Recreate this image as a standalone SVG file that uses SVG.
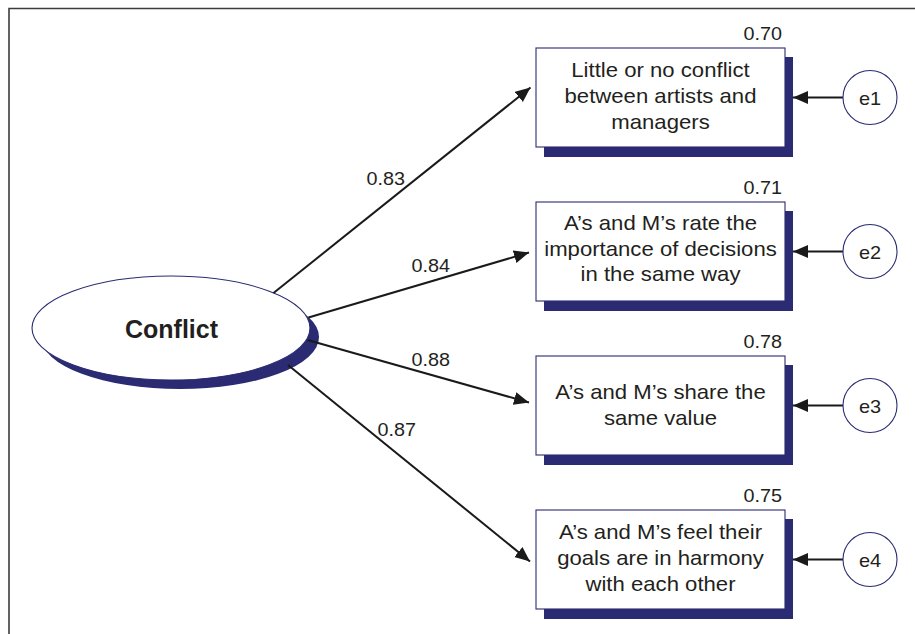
<svg xmlns="http://www.w3.org/2000/svg" width="915" height="634" viewBox="0 0 915 634">
  <style>
    .frame { fill: none; stroke: #3c3c3c; stroke-width: 1.6; }
    .shadow { fill: #2a2b72; }
    .box { fill: #ffffff; stroke: #2a2b72; stroke-width: 1.1; }
    .err { fill: #ffffff; stroke: #2a2b72; stroke-width: 1.1; }
    .edge { fill: none; stroke: #1a1a1a; stroke-width: 2; }
    .txt { font-family: "Liberation Sans", Arial, sans-serif; font-size: 20.5px; fill: #231f20; text-anchor: middle; }
    .num { font-family: "Liberation Sans", Arial, sans-serif; font-size: 18px; fill: #231f20; }
    .elab { font-family: "Liberation Sans", Arial, sans-serif; font-size: 19px; fill: #231f20; text-anchor: middle; }
    .lat { font-family: "Liberation Sans", Arial, sans-serif; font-size: 25px; font-weight: bold; fill: #231f20; text-anchor: middle; }
  </style>
  <defs>
    <marker id="arrow" markerUnits="userSpaceOnUse" markerWidth="16" markerHeight="14" refX="15" refY="6.5" orient="auto">
      <path d="M0,0 L15,6.5 L0,13 z" fill="#1a1a1a"/>
    </marker>
  </defs>

  <rect width="915" height="634" fill="#ffffff"/>
  <!-- page frame (open to the right and bottom) -->
  <path class="frame" d="M915,8.5 H9 V634"/>

  <!-- latent variable -->
  <g id="conflict">
    <ellipse class="shadow" cx="180" cy="337" rx="139" ry="52"/>
    <ellipse class="box" cx="171" cy="328" rx="139" ry="52"/>
    <text class="lat" x="171.5" y="338">Conflict</text>
  </g>

  <!-- connectors -->
  <g id="connectors">
    <line class="edge" x1="273.5" y1="293" x2="530.5" y2="87.5" marker-end="url(#arrow)"/>
    <line class="edge" x1="308.5" y1="317.5" x2="529" y2="252.5" marker-end="url(#arrow)"/>
    <line class="edge" x1="307.5" y1="340" x2="529" y2="402.5" marker-end="url(#arrow)"/>
    <line class="edge" x1="288" y1="365" x2="530" y2="561.5" marker-end="url(#arrow)"/>
    <line class="edge" x1="843" y1="97.5" x2="793" y2="97.5" marker-end="url(#arrow)"/>
    <line class="edge" x1="843" y1="251.5" x2="793" y2="251.5" marker-end="url(#arrow)"/>
    <line class="edge" x1="843" y1="405.5" x2="793" y2="405.5" marker-end="url(#arrow)"/>
    <line class="edge" x1="843" y1="559.5" x2="793" y2="559.5" marker-end="url(#arrow)"/>
    <!-- loadings -->
    <text class="num" transform="translate(366.5,185) scale(1.1,1)">0.83</text>
    <text class="num" transform="translate(411.5,272) scale(1.1,1)">0.84</text>
    <text class="num" transform="translate(411.5,366) scale(1.1,1)">0.88</text>
    <text class="num" transform="translate(377.5,436) scale(1.1,1)">0.87</text>
  </g>

  <!-- observed indicators -->
  <g id="item1">
    <rect class="shadow" x="544" y="57" width="249" height="100"/>
    <rect class="box" x="536" y="48" width="249" height="99"/>
    <text class="num" text-anchor="end" transform="translate(782,40) scale(1.1,1)">0.70</text>
    <text class="txt" transform="translate(660.5,76.5) scale(1.08,1)">Little or no conflict</text>
    <text class="txt" transform="translate(660.5,102.5) scale(1.08,1)">between artists and</text>
    <text class="txt" transform="translate(660.5,128.5) scale(1.08,1)">managers</text>
  </g>

  <g id="item2">
    <rect class="shadow" x="544" y="211" width="249" height="100"/>
    <rect class="box" x="536" y="202" width="249" height="99"/>
    <text class="num" text-anchor="end" transform="translate(782,194) scale(1.1,1)">0.71</text>
    <text class="txt" transform="translate(660.5,229.5) scale(1.08,1)">A’s and M’s rate the</text>
    <text class="txt" transform="translate(660.5,255.5) scale(1.08,1)">importance of decisions</text>
    <text class="txt" transform="translate(660.5,281) scale(1.08,1)">in the same way</text>
  </g>

  <g id="item3">
    <rect class="shadow" x="544" y="365" width="249" height="100"/>
    <rect class="box" x="536" y="356" width="249" height="99"/>
    <text class="num" text-anchor="end" transform="translate(782,348) scale(1.1,1)">0.78</text>
    <text class="txt" transform="translate(660.5,398.5) scale(1.08,1)">A’s and M’s share the</text>
    <text class="txt" transform="translate(660.5,424.5) scale(1.08,1)">same value</text>
  </g>

  <g id="item4">
    <rect class="shadow" x="544" y="519" width="249" height="100"/>
    <rect class="box" x="536" y="510" width="249" height="99"/>
    <text class="num" text-anchor="end" transform="translate(782,502) scale(1.1,1)">0.75</text>
    <text class="txt" transform="translate(660.5,539) scale(1.08,1)">A’s and M’s feel their</text>
    <text class="txt" transform="translate(660.5,565) scale(1.08,1)">goals are in harmony</text>
    <text class="txt" transform="translate(660.5,590.5) scale(1.08,1)">with each other</text>
  </g>

  <!-- error terms -->
  <g id="e1">
    <circle class="err" cx="870" cy="97.5" r="27"/>
    <text class="elab" transform="translate(870,104.5) scale(1.05,1)">e1</text>
  </g>
  <g id="e2">
    <circle class="err" cx="870" cy="251.5" r="27"/>
    <text class="elab" transform="translate(870,258.5) scale(1.05,1)">e2</text>
  </g>
  <g id="e3">
    <circle class="err" cx="870" cy="405.5" r="27"/>
    <text class="elab" transform="translate(870,412.5) scale(1.05,1)">e3</text>
  </g>
  <g id="e4">
    <circle class="err" cx="870" cy="559.5" r="27"/>
    <text class="elab" transform="translate(870,566.5) scale(1.05,1)">e4</text>
  </g>
</svg>
